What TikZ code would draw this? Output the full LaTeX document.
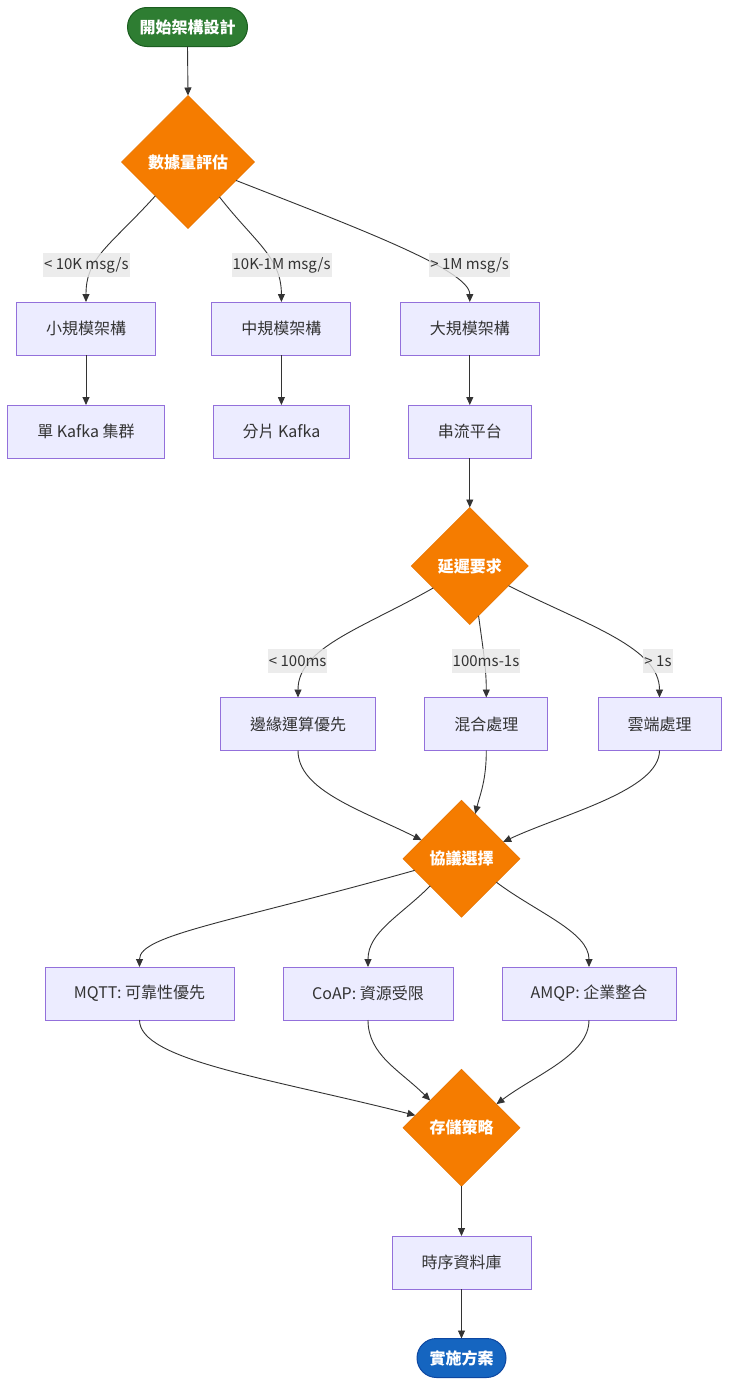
\documentclass[tikz,border=0pt]{standalone}
\usepackage{fontspec}
\setmainfont{Noto Sans CJK TC}
\usetikzlibrary{shapes.geometric,arrows.meta}
\definecolor{boxfill}{HTML}{ECECFF}
\definecolor{boxdraw}{HTML}{9370DB}
\definecolor{txt}{HTML}{333333}
\definecolor{edgec}{HTML}{333333}
\definecolor{dfill}{HTML}{F57C00}
\definecolor{ddraw}{HTML}{E67300}
\definecolor{gfill}{HTML}{2E7D32}
\definecolor{gdraw}{HTML}{1B5E20}
\definecolor{bfill}{HTML}{1565C0}
\definecolor{bdraw}{HTML}{0D47A1}
\definecolor{lblbg}{HTML}{E8E8E8}
\begin{document}
\begin{tikzpicture}[x=1pt,y=-1pt,
  box/.style={draw=boxdraw, fill=boxfill, line width=1pt, minimum height=53pt, inner sep=0pt, outer sep=0pt, text=txt, font=\fontsize{16pt}{19pt}\selectfont},
  dec/.style={diamond, aspect=1, draw=ddraw, fill=dfill, line width=0.6pt, inner sep=0pt, outer sep=0pt, text=white, font=\fontsize{16pt}{19pt}\selectfont\bfseries},
  term/.style={rectangle, rounded corners=19.5pt, minimum height=39pt, inner sep=0pt, outer sep=0pt, line width=1pt, text=white, font=\fontsize{16pt}{19pt}\selectfont\bfseries},
  lbl/.style={fill=lblbg, fill opacity=0.8, text opacity=1, text=txt, inner xsep=1pt, inner ysep=0pt, minimum height=24pt, font=\fontsize{15pt}{18pt}\selectfont},
  conn/.style={draw=edgec, line width=0.9pt, -{Triangle[length=8pt,width=7pt]}}]
\fill[white] (0,0) rectangle (735,1400);
\useasboundingbox (0,0) rectangle (735,1400);
% nodes
\node[term, fill=gfill, draw=gdraw, minimum width=120pt] (start) at (187.5,27) {開始架構設計};
\node[dec, minimum width=133pt, minimum height=133pt] (d1) at (188,162) {數據量評估};
\node[box, minimum width=139pt] (s1) at (86,328.5) {小規模架構};
\node[box, minimum width=139pt] (m1) at (281.4,328.5) {中規模架構};
\node[box, minimum width=139pt] (b1) at (469.8,328.5) {大規模架構};
\node[box, minimum width=157pt] (s2) at (86,431.5) {單 Kafka 集群};
\node[box, minimum width=136pt] (m2) at (281.4,431.5) {分片 Kafka};
\node[box, minimum width=123pt] (b2) at (469.8,431.5) {串流平台};
\node[dec, minimum width=117pt, minimum height=117pt] (d2) at (469.8,566) {延遲要求};
\node[box, minimum width=155pt] (e1) at (298,724) {邊緣運算優先};
\node[box, minimum width=123pt] (h1) at (486.3,724) {混合處理};
\node[box, minimum width=123pt] (c1) at (659.5,724) {雲端處理};
\node[dec, minimum width=117pt, minimum height=117pt] (d3) at (461.5,858.7) {協議選擇};
\node[box, minimum width=189pt] (p1) at (139.5,993.5) {MQTT: 可靠性優先};
\node[box, minimum width=170pt] (p2) at (368,993.5) {CoAP: 資源受限};
\node[box, minimum width=174pt] (p3) at (589,993.5) {AMQP: 企業整合};
\node[dec, minimum width=117pt, minimum height=117pt] (d4) at (461.5,1127.7) {存儲策略};
\node[box, minimum width=139pt] (t1) at (461.5,1262.5) {時序資料庫};
\node[term, fill=bfill, draw=bdraw, minimum width=89pt] (end) at (461.5,1358) {實施方案};
% connectors
\draw[conn] (start.south) -- (d1.north);
\draw[conn] (d1.-134) .. controls +(-45,50) and +(0,-45) .. (s1.north);
\draw[conn] (d1.-48) .. controls +(35,45) and +(0,-45) .. (m1.north);
\draw[conn] (d1.-21) .. controls +(120,47) and +(0,-32) .. (b1.north);
\draw[conn] (s1.south) -- (s2.north);
\draw[conn] (m1.south) -- (m2.north);
\draw[conn] (b1.south) -- (b2.north);
\draw[conn] (b2.south) -- (d2.north);
\draw[conn] (d2.-149) .. controls +(-70,40) and +(0,-50) .. (e1.north);
\draw[conn] (d2.-80) .. controls +(4,30) and +(0,-30) .. (h1.north);
\draw[conn] (d2.-27) .. controls +(80,40) and +(0,-50) .. (c1.north);
\draw[conn] (e1.south) .. controls +(0,40) and +(-60,-30) .. (d3.155);
\draw[conn] (h1.south) .. controls +(0,30) and +(5,-20) .. (d3.73);
\draw[conn] (c1.south) .. controls +(0,40) and +(60,-28) .. (d3.22);
\draw[conn] (d3.-166) .. controls +(-185,52) and +(0,-32) .. (p1.north);
\draw[conn] (d3.-139) .. controls +(-30,30) and +(0,-35) .. (p2.north);
\draw[conn] (d3.-34) .. controls +(40,30) and +(0,-35) .. (p3.north);
\draw[conn] (p1.south) .. controls +(0,40) and +(-150,-38) .. (d4.165);
\draw[conn] (p2.south) .. controls +(0,35) and +(-30,-30) .. (d4.139);
\draw[conn] (p3.south) .. controls +(0,35) and +(40,-30) .. (d4.34);
\draw[conn] (d4.south) -- (t1.north);
\draw[conn] (t1.south) -- (end.north);
% edge labels
\node[lbl] (l1) at (86.3,265) {< 10K msg/s};
\node[lbl] (l2) at (281.6,265) {10K-1M msg/s};
\node[lbl] (l3) at (469.7,265) {> 1M msg/s};
\node[lbl] (l4) at (297.7,661) {< 100ms};
\node[lbl] (l5) at (486,661) {100ms-1s};
\node[lbl] (l6) at (658,661) {> 1s};
\end{tikzpicture}
\end{document}
